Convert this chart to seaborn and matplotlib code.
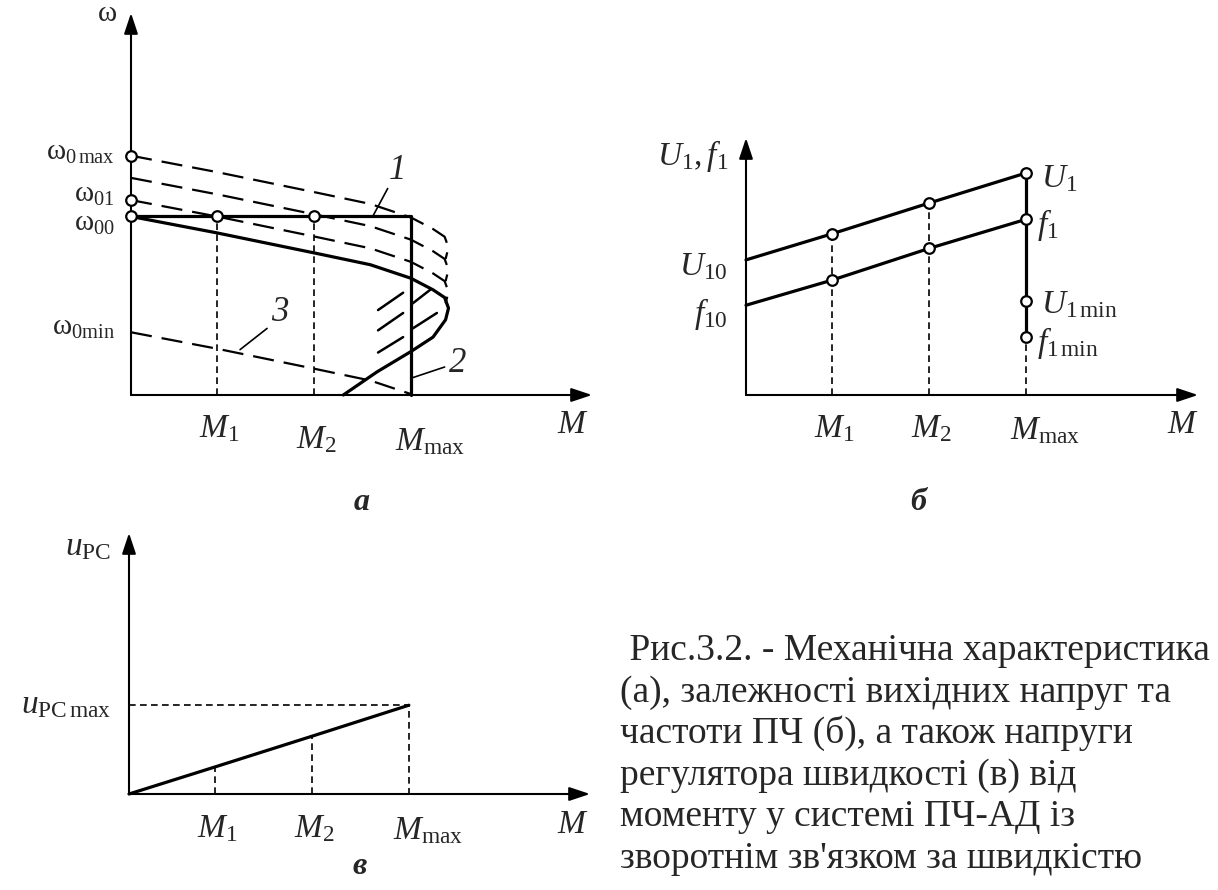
import matplotlib
matplotlib.use("Agg")
import matplotlib.pyplot as plt
import seaborn as sns

# ---------------- data (arbitrary units) ----------------
# torque marks shared by all three panels
M_marks = [0.89, 1.90, 2.90]                 # M1, M2, Mmax
M_names = [r"$M_1$", r"$M_2$", r"$M_{\mathrm{max}}$"]

# panel a: natural mechanical characteristic starting at omega00
M_nat = [0.00, 0.89, 1.91, 2.48, 2.90, 3.13, 3.25, 3.29, 3.26, 3.13, 2.90, 2.55, 2.20]
w_nat = [1.85, 1.68, 1.47, 1.35, 1.21, 1.09, 1.01, 0.90, 0.78, 0.60, 0.45, 0.24, 0.00]
w00 = 1.85
w01 = 2.02
w0mid = 2.25
w0max = 2.48
w0min = 0.65

# short hatch strokes in the limit zone (start M, start w, end M, end w)
hatch_M0 = [2.56, 2.56, 2.56, 2.92, 2.92]
hatch_w0 = [0.88, 0.67, 0.44, 0.95, 0.69]
hatch_M1 = [2.82, 2.82, 2.82, 3.10, 3.17]
hatch_w1 = [1.06, 0.85, 0.60, 1.09, 0.85]

# callouts 1, 2, 3 : leader start, leader end, label point
call_names = ["1", "2", "3"]
call_M0 = [2.51, 2.92, 1.13]
call_w0 = [1.86, 0.18, 0.47]
call_M1 = [2.66, 3.25, 1.41]
call_w1 = [2.14, 0.29, 0.69]
call_Mt = [2.76, 3.39, 1.54]
call_wt = [2.33, 0.33, 0.85]

# panel б: converter output voltage and frequency
M_line = [0.00, 0.89, 1.90, 2.90]
U1_vals = [1.40, 1.67, 1.99, 2.30]
f1_vals = [0.93, 1.19, 1.52, 1.82]
U1_min = 0.97
f1_min = 0.60

# panel в: speed-controller output
uPC_vals = [0.00, 0.28, 0.60, 0.92]

caption_lines = [
    " Рис.3.2. - Механічна характеристика",
    "(а), залежності вихідних напруг та",
    "частоти ПЧ (б), а також напруги",
    "регулятора швидкості (в) від",
    "моменту у системі ПЧ-АД із",
    "зворотнім зв'язком за швидкістю",
]

# ---------------- style ----------------
sns.set_theme(style="white")
plt.rcParams["font.family"] = ["Liberation Serif", "DejaVu Serif"]
plt.rcParams["mathtext.fontset"] = "custom"
plt.rcParams["mathtext.rm"] = "Liberation Serif"
plt.rcParams["mathtext.it"] = "Liberation Serif:italic"
plt.rcParams["mathtext.bf"] = "Liberation Serif:bold"

W, H, DPI = 1218, 890, 100
UNIT = 96.5          # pixels per data unit
fig = plt.figure(figsize=(W / DPI, H / DPI), dpi=DPI, facecolor="white")

LW_MAIN = 2.3
LW_AX = 1.5
LW_DASH = 1.6
LW_THIN = 1.2
BIG_DASH = (0, (9.5, 4.5))
THIN_DASH = (0, (4.0, 2.6))
TXT = 24
WTXT = 21


def make_ax(ox, oy, xtip, ytip):
    ax = fig.add_axes([ox / W, 1 - oy / H, (xtip - ox) / W, (oy - ytip) / H])
    ax.set_xlim(0, (xtip - ox) / UNIT)
    ax.set_ylim(0, (oy - ytip) / UNIT)
    ax.axis("off")
    return ax


def arrows(ax):
    x1, y1 = ax.get_xlim()[1], ax.get_ylim()[1]
    kw = dict(arrowstyle="-|>,head_length=0.9,head_width=0.3", color="black",
              lw=LW_AX, shrinkA=0, shrinkB=0, mutation_scale=14)
    ax.annotate("", xy=(x1, 0), xytext=(0, 0), arrowprops=kw, annotation_clip=False)
    ax.annotate("", xy=(0, y1), xytext=(0, 0), arrowprops=kw, annotation_clip=False)


def line(ax, xs, ys, lw=LW_MAIN, ls="-"):
    sns.lineplot(x=xs, y=ys, ax=ax, color="black", lw=lw, linestyle=ls,
                 sort=False, estimator=None, legend=False, clip_on=False)


def circles(ax, xs, ys):
    sns.scatterplot(x=xs, y=ys, ax=ax, s=58, color="white", edgecolor="black",
                    linewidth=1.6, zorder=6, clip_on=False, legend=False)


def label(ax, txt, x, y, dx, dy, ha="center", size=TXT, **kw):
    ax.annotate(txt, xy=(x, y), xytext=(dx, dy), textcoords="offset pixels",
                ha=ha, va="center", fontsize=size, annotation_clip=False, **kw)


def m_labels(ax, dys):
    for m, name, dy in zip(M_marks, M_names, dys):
        if "max" in name:
            label(ax, name, m, 0, -16, dy, ha="left")
        else:
            label(ax, name, m, 0, 2, dy)


# ---------------- panel a ----------------
axa = make_ax(131, 395, 592, 13)
ya = axa.get_ylim()[1]
arrows(axa)

# dashed characteristics for the other omega0 values (same shape, moved)
for w0 in [w0max, w0mid, w01]:
    line(axa, M_nat[:9], [w + (w0 - w00) for w in w_nat[:9]], lw=LW_DASH, ls=BIG_DASH)
line(axa, M_nat[:5], [w + (w0min - w00) for w in w_nat[:5]], lw=LW_DASH, ls=BIG_DASH)

# natural characteristic
line(axa, M_nat, w_nat)
# characteristic 1 (horizontal) and 2 (vertical at Mmax)
line(axa, [0, M_marks[2], M_marks[2]], [w00, w00, 0])
# thin verticals at M1, M2
for m in M_marks[:2]:
    line(axa, [m, m], [0, w00], lw=LW_THIN, ls=THIN_DASH)
# hatch strokes
for a0, b0, a1, b1 in zip(hatch_M0, hatch_w0, hatch_M1, hatch_w1):
    line(axa, [a0, a1], [b0, b1], lw=1.8)
# callouts
for n, a0, b0, a1, b1, at, bt in zip(call_names, call_M0, call_w0, call_M1, call_w1,
                                      call_Mt, call_wt):
    line(axa, [a0, a1], [b0, b1], lw=1.2)
    label(axa, n, at, bt, 0, 0, size=25, style="italic")

circles(axa, [0, M_marks[0], M_marks[1], 0, 0], [w00, w00, w00, w01, w0max])

label(axa, r"$\mathrm{\omega}$", 0, ya, -24, -1, size=WTXT)
label(axa, r"$\mathrm{\omega}_{0\,\mathrm{max}}$", 0, w0max, -16, 3, ha="right", size=WTXT)
label(axa, r"$\mathrm{\omega}_{01}$", 0, w01, -16, 5, ha="right", size=WTXT)
label(axa, r"$\mathrm{\omega}_{00}$", 0, w00, -16, -8, ha="right", size=WTXT)
label(axa, r"$\mathrm{\omega}_{0\mathrm{min}}$", 0, w0min, -16, 4, ha="right", size=WTXT)
m_labels(axa, [-34, -45, -47])
label(axa, r"$M$", (573 - 131) / UNIT, 0, 0, -30)

# ---------------- panel б ----------------
axb = make_ax(746, 395, 1198, 138)
yb = axb.get_ylim()[1]
arrows(axb)
for m, u in zip(M_line[1:], U1_vals[1:]):
    line(axb, [m, m], [0, u], lw=LW_THIN, ls=THIN_DASH)
line(axb, M_line, U1_vals)
line(axb, M_line, f1_vals)
line(axb, [M_line[-1], M_line[-1]], [U1_vals[-1], f1_min])
circles(axb, M_line[1:] + M_line[1:] + [M_line[-1], M_line[-1]],
        U1_vals[1:] + f1_vals[1:] + [U1_min, f1_min])

label(axb, r"$U_1, f_1$", 0, yb, -18, -18, ha="right")
label(axb, r"$U_{10}$", 0, U1_vals[0], -18, -7, ha="right")
label(axb, r"$f_{10}$", 0, f1_vals[0], -18, -9, ha="right")
label(axb, r"$U_1$", M_line[-1], U1_vals[-1], 15, -6, ha="left")
label(axb, r"$f_1$", M_line[-1], f1_vals[-1], 11, -6, ha="left")
label(axb, r"$U_{1\,\mathrm{min}}$", M_line[-1], U1_min, 15, -3, ha="left")
label(axb, r"$f_{1\,\mathrm{min}}$", M_line[-1], f1_min, 11, -6, ha="left")
m_labels(axb, [-34, -34, -36])
label(axb, r"$M$", (1183 - 746) / UNIT, 0, 0, -30)

# ---------------- panel в ----------------
axc = make_ax(129, 794, 590, 533)
yc = axc.get_ylim()[1]
arrows(axc)
line(axc, [0, M_line[-1], M_line[-1]], [uPC_vals[-1], uPC_vals[-1], 0], lw=LW_THIN, ls=THIN_DASH)
for m, u in zip(M_line[1:3], uPC_vals[1:3]):
    line(axc, [m, m], [0, u], lw=LW_THIN, ls=THIN_DASH)
line(axc, M_line, uPC_vals)
label(axc, r"$u_{\mathrm{PC}}$", 0, yc, -18, -14, ha="right")
label(axc, r"$u_{\mathrm{PC\,max}}$", 0, uPC_vals[-1], -18, 0, ha="right")
m_labels(axc, [-35, -35, -37])
label(axc, r"$M$", (573 - 129) / UNIT, 0, 0, -31)

# ---------------- panel letters and caption ----------------
for txt, px, py in [("а", 362, 503), ("б", 918, 503), ("в", 360, 866)]:
    fig.text(px / W, 1 - py / H, txt, ha="center", va="center", fontsize=23,
             style="italic", weight="bold")

for i, t in enumerate(caption_lines):
    fig.text(620 / W, 1 - (660 + 41.5 * i) / H, t, ha="left", va="baseline", fontsize=27)

fig.savefig("out.png", dpi=DPI, facecolor="white")
